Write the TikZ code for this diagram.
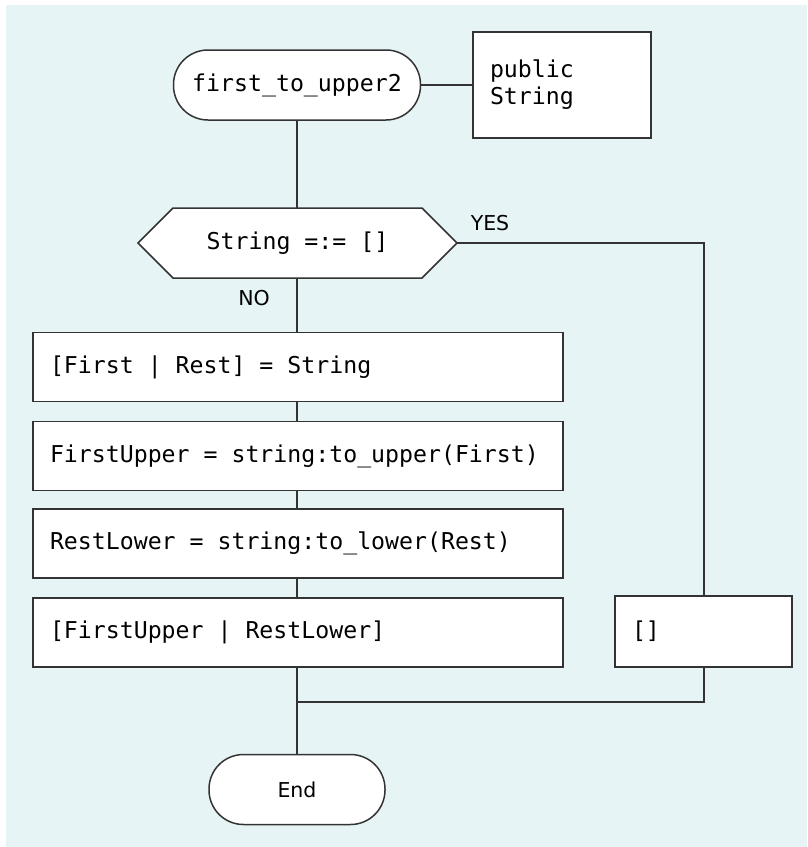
\documentclass[tikz,border=0pt]{standalone}
\usepackage{fontspec}
\setmonofont{DejaVu Sans Mono}
\setsansfont{DejaVu Sans}
\definecolor{bgc}{HTML}{E7F4F6}
\definecolor{ln}{HTML}{333333}
\begin{document}
\begin{tikzpicture}[x=1pt,y=-1pt,
  every node/.style={font=\fontsize{23.2}{27}\selectfont\ttfamily, text=black},
  proc/.style={draw=ln, line width=1.5pt, fill=white, minimum width=530, minimum height=69, text width=496, align=flush left, inner xsep=17, inner ysep=0},
  term/.style={draw=ln, line width=1.5pt, fill=white, rounded corners=34.5, minimum height=70, inner sep=0},
  lab/.style={font=\fontsize{20.5}{24}\selectfont\sffamily},
  conn/.style={draw=ln, line width=1.5pt}]
\useasboundingbox (0,0) rectangle (807,847);
\fill[bgc] (6,5) rectangle (807,847);
\coordinate (join) at (297,702);
\node[term, minimum width=247] (start) at (297,85) {first\_to\_upper2};
\node[draw=ln, line width=1.5pt, fill=white, minimum width=178, minimum height=106, text width=144, align=flush left, inner xsep=17, inner ysep=0] (pub) at (562,85) {public\\String};
% decision hexagon
\fill[white] (173,208) -- (422,208) -- (457,243) -- (422,278) -- (173,278) -- (138,243) -- cycle;
\node[minimum width=319, minimum height=70, inner sep=0] (dec) at (297.5,243) {String =:= []};
\node[proc] (b1) at (298,367) {[First | Rest] = String};
\node[proc] (b2) at (298,456) {FirstUpper = string:to\_upper(First)};
\node[proc] (b3) at (298,543.5) {RestLower = string:to\_lower(Rest)};
\node[proc] (b4) at (298,632.5) {[FirstUpper | RestLower]};
\node[draw=ln, line width=1.5pt, fill=white, minimum width=177, minimum height=71, text width=143, align=flush left, inner xsep=17, inner ysep=0] (rb) at (703.5,631.5) {[]};
\node[term, minimum width=176] (endn) at (297,789.5) {\fontsize{20.5}{24}\selectfont\sffamily End};
\draw[conn] (173,208) -- (422,208) -- (457,243) -- (422,278) -- (173,278) -- (138,243) -- cycle;
\draw[conn] (start.east) -- (pub.west);
\draw[conn] (start.south) -- (297,208);
\draw[conn] (297,278) -- (b1.north -| 297,0);
\draw[conn] (b1.south -| 297,0) -- (b2.north -| 297,0);
\draw[conn] (b2.south -| 297,0) -- (b3.north -| 297,0);
\draw[conn] (b3.south -| 297,0) -- (b4.north -| 297,0);
\draw[conn] (b4.south -| 297,0) -- (endn.north);
\draw[conn] (457,243) -| (rb.north -| 704,0);
\draw[conn] (rb.south -| 704,0) |- (join);
\node[lab] (yes) at (490,223) {YES};
\node[lab] (no) at (254,298) {NO};
\end{tikzpicture}
\end{document}
